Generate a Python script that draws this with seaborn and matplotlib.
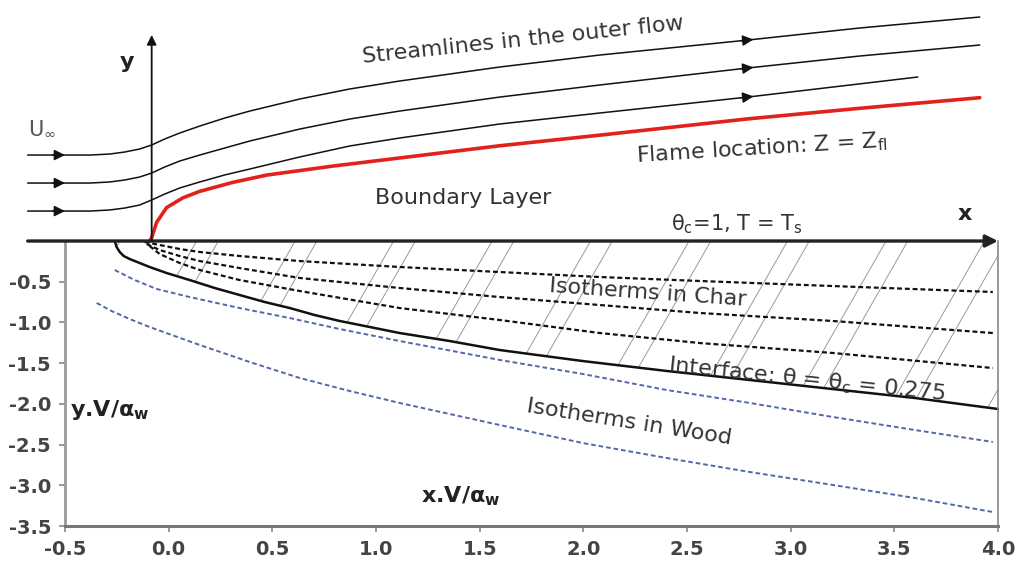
import numpy as np
import pandas as pd
import matplotlib
matplotlib.use("Agg")
import matplotlib.pyplot as plt
from matplotlib.patches import Polygon
import seaborn as sns

# outer flow streamlines and flame sheet (x.V/alpha_w, y.V/alpha_w)
stream_x = [-0.68, -0.38, -0.285, -0.212, -0.14, -0.082, -0.019, 0.053, 0.15, 0.27, 0.391,
            0.632, 0.873, 1.114, 1.597, 2.079, 2.793, 3.333, 3.912]
stream1_y = [1.056, 1.056, 1.068, 1.093, 1.130, 1.179, 1.253, 1.326, 1.412, 1.510, 1.596,
             1.744, 1.867, 1.965, 2.137, 2.284, 2.468, 2.616, 2.751]
stream2_y = [0.712, 0.712, 0.725, 0.749, 0.786, 0.835, 0.909, 0.982, 1.056, 1.142, 1.228,
             1.375, 1.498, 1.596, 1.768, 1.916, 2.125, 2.272, 2.407]
stream3_x = stream_x[:-2] + [3.613]
stream3_y = [0.368, 0.368, 0.381, 0.405, 0.442, 0.504, 0.577, 0.651, 0.725, 0.811, 0.884,
             1.032, 1.167, 1.265, 1.437, 1.572, 1.768, 2.014]
flame_x = [-0.092, -0.082, -0.058, -0.010, 0.068, 0.150, 0.309, 0.473, 0.791, 1.114, 1.597,
           2.079, 2.793, 3.333, 3.912]
flame_y = [0.0, 0.04, 0.23, 0.41, 0.53, 0.61, 0.72, 0.81, 0.92, 1.02, 1.17, 1.30, 1.50, 1.63, 1.76]

# char / wood side
iface_x = [-0.260, -0.251, -0.236, -0.217, -0.188, -0.140, -0.092, -0.010, 0.101, 0.222, 0.342,
           0.463, 0.584, 0.704, 0.825, 1.114, 1.355, 1.597, 1.997, 2.402, 2.803, 3.203, 3.599, 4.0]
iface_y = [0.0, -0.074, -0.135, -0.184, -0.221, -0.270, -0.319, -0.393, -0.479, -0.577, -0.663,
           -0.749, -0.823, -0.909, -0.982, -1.130, -1.228, -1.339, -1.474, -1.596, -1.707, -1.818,
           -1.928, -2.063]
char_x = [-0.116, -0.043, 0.053, 0.150, 0.342, 0.632, 1.114, 1.597, 2.079, 2.562, 3.203, 3.975]
char1_y = [-0.012, -0.049, -0.098, -0.135, -0.184, -0.246, -0.319, -0.381, -0.442, -0.491, -0.553, -0.626]
char2_x = [-0.106] + char_x[1:]
char2_y = [-0.037, -0.111, -0.184, -0.246, -0.332, -0.454, -0.577, -0.688, -0.786, -0.884, -0.982, -1.130]
char3_x = [-0.092] + char_x[1:]
char3_y = [-0.061, -0.160, -0.270, -0.356, -0.479, -0.614, -0.823, -0.970, -1.130, -1.253, -1.375, -1.560]
wood1_x = [-0.260, -0.164, -0.058, 0.101, 0.342, 0.584, 0.825, 1.114, 1.597, 1.997, 2.402, 2.803,
           3.203, 3.599, 3.975]
wood1_y = [-0.356, -0.479, -0.589, -0.688, -0.823, -0.946, -1.081, -1.228, -1.461, -1.633, -1.830,
           -1.989, -2.161, -2.321, -2.468]
wood2_x = [-0.347, -0.275, -0.188, -0.092, 0.029, 0.150, 0.391, 0.632, 0.873, 1.114, 1.597, 1.997,
           2.402, 2.803, 3.203, 3.599, 3.975]
wood2_y = [-0.761, -0.860, -0.958, -1.056, -1.167, -1.277, -1.486, -1.682, -1.842, -1.989, -2.260,
           -2.481, -2.665, -2.837, -2.996, -3.156, -3.328]

x_ticks = [-0.5, 0.0, 0.5, 1.0, 1.5, 2.0, 2.5, 3.0, 3.5, 4.0]
y_ticks = [-3.5, -3.0, -2.5, -2.0, -1.5, -1.0, -0.5]

sns.set_theme(style="white")
plt.rcParams["font.family"] = ["DejaVu Sans"]
plt.rcParams["axes.unicode_minus"] = False
plt.rcParams["mathtext.default"] = "regular"

fig = plt.figure(figsize=(10.16, 5.70), dpi=100)
ax = fig.add_axes([65 / 1016, 44 / 570, 933 / 1016, 526 / 570])
ax.set_xlim(-0.5, 4.0)
ax.set_ylim(-3.5, 2.96)

# sparse steep hatching of the char layer, in pairs
char_poly = Polygon(np.column_stack([iface_x + [4.0], iface_y + [0.0]]), closed=True,
                    transform=ax.transData)
for base in np.arange(-0.34, 4.7, 0.475):
    for x0 in (base, base + 0.105):
        hl, = ax.plot([x0, x0 - 2.3 / 4.45], [0, -2.3], color="#9a9a9a", lw=0.7)
        hl.set_clip_path(char_poly)

def curve(xs, ys, **kw):
    sns.lineplot(x=xs, y=ys, ax=ax, sort=False, estimator=None, clip_on=False, **kw)

for sx, sy in [(stream_x, stream1_y), (stream_x, stream2_y), (stream3_x, stream3_y)]:
    curve(sx, sy, color="#111111", linewidth=1.1)
    for a0 in (-0.56, 2.76):
        y0 = np.interp(a0, sx, sy)
        y1 = np.interp(a0 + 0.06, sx, sy)
        ax.annotate("", xy=(a0 + 0.06, y1), xytext=(a0, y0),
                    arrowprops=dict(arrowstyle="-|>", color="#111111", lw=1.1,
                                    mutation_scale=16, shrinkA=0, shrinkB=0),
                    annotation_clip=False)

curve(flame_x, flame_y, color="#e3211c", linewidth=2.6)
curve(iface_x, iface_y, color="#111111", linewidth=1.8)
for cx, cy in [(char_x, char1_y), (char2_x, char2_y), (char3_x, char3_y)]:
    curve(cx, cy, color="#111111", linewidth=1.6, linestyle=(0, (2.2, 1.3)))
for wx, wy in [(wood1_x, wood1_y), (wood2_x, wood2_y)]:
    curve(wx, wy, color="#5566aa", linewidth=1.4, linestyle=(0, (2.4, 1.5)))

# surface (x axis) and y axis arrows
ax.annotate("", xy=(4.0, 0), xytext=(-0.68, 0),
            arrowprops=dict(arrowstyle="-|>", color="#222222", lw=2.4,
                            mutation_scale=18, shrinkA=0, shrinkB=0),
            annotation_clip=False)
ax.annotate("", xy=(-0.082, 2.53), xytext=(-0.082, 0),
            arrowprops=dict(arrowstyle="-|>", color="#111111", lw=1.3,
                            mutation_scale=14, shrinkA=0, shrinkB=0),
            annotation_clip=False)

# frame only below the surface
ax.spines["top"].set_visible(False)
ax.spines["left"].set_bounds(-3.5, 0)
ax.spines["right"].set_bounds(-3.5, 0)
ax.spines["left"].set_color("#999999")
ax.spines["left"].set_linewidth(2.0)
ax.spines["bottom"].set_color("#777777")
ax.spines["bottom"].set_linewidth(2.2)
ax.spines["right"].set_color("#888888")
ax.spines["right"].set_linewidth(1.2)
ax.set_xticks(x_ticks)
ax.set_yticks(y_ticks)
ax.set_xticklabels([f"{v:.1f}" for v in x_ticks])
ax.set_yticklabels([f"{v:.1f}" for v in y_ticks])
ax.tick_params(axis="both", direction="out", length=4, width=1.2, color="#888888",
               labelsize=14, labelcolor="#444444", pad=6)
for lab in ax.get_xticklabels() + ax.get_yticklabels():
    lab.set_fontweight("bold")
ax.tick_params(axis="y", left=True, right=False)
ax.tick_params(axis="x", bottom=True)
ax.grid(False)

txt = dict(color="#333333", fontsize=16, ha="center", va="center", rotation_mode="anchor")
ax.text(1.71, 2.47, "Streamlines in the outer flow", rotation=6, **txt)
ax.text(2.86, 1.14, "Flame location: Z = Z$_{fl}$", rotation=3.5, **txt)
ax.text(1.42, 0.53, "Boundary Layer", **txt)
ax.text(2.74, 0.21, "θ$_c$=1, T = T$_s$", **dict(txt, fontsize=15))
ax.text(2.31, -0.64, "Isotherms in Char", rotation=-4, **txt)
ax.text(3.08, -1.70, "Interface: θ = θ$_c$ = 0.275", rotation=-6, **txt)
ax.text(2.22, -2.22, "Isotherms in Wood", rotation=-9, **txt)
ax.text(-0.61, 1.38, "U$_∞$", **dict(txt, color="#555555", fontsize=15))
ax.text(-0.20, 2.20, "y", fontweight="bold", **dict(txt, color="#222222"))
ax.text(3.84, 0.33, "x", fontweight="bold", **dict(txt, color="#222222"))
ax.text(-0.285, -2.07, "y.V/$\\alpha_w$", fontweight="bold", **dict(txt, color="#222222"))
ax.text(1.41, -3.14, "x.V/$\\alpha_w$", fontweight="bold", **dict(txt, color="#222222"))

fig.savefig("out.png", dpi=100)
